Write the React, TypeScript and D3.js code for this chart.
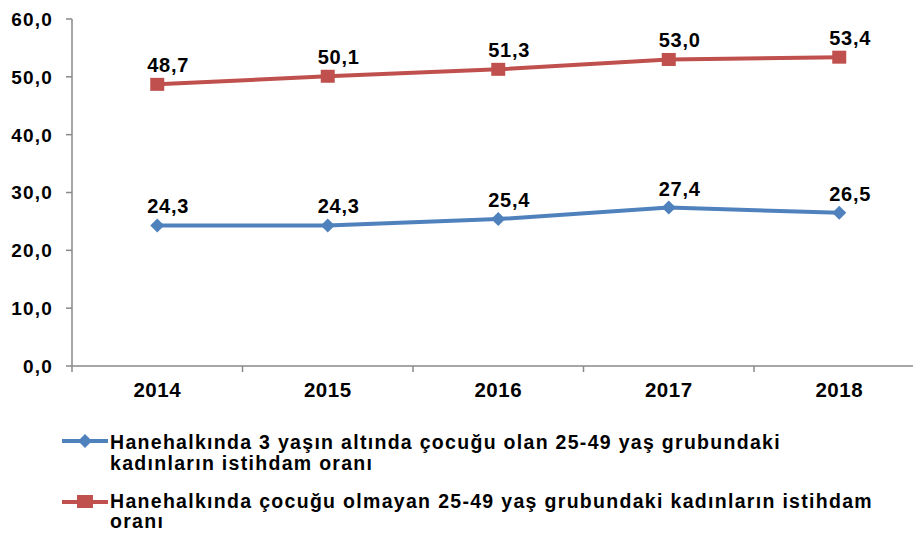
import React, { useLayoutEffect, useRef, useState } from "react";
import * as d3 from "d3";

const years = ["2014", "2015", "2016", "2017", "2018"];
const seriesBlue = [24.3, 24.3, 25.4, 27.4, 26.5];
const seriesRed = [48.7, 50.1, 51.3, 53.0, 53.4];
const yTicks = [0, 10, 20, 30, 40, 50, 60];
const legendBlue = ["Hanehalkında 3 yaşın altında çocuğu olan 25-49 yaş grubundaki", "kadınların istihdam oranı"];
const legendRed = ["Hanehalkında çocuğu olmayan 25-49 yaş grubundaki kadınların istihdam", "oranı"];

const W = 913;
const H = 536;
const BLUE = "#4F81BD";
const RED = "#C0504D";
const AXIS = "#898989";
const FONT = "'Liberation Sans', Arial, sans-serif";
const LEG_FS = 19.5;
const LEG_LS = 1.3;

const fmt = (v: number) => v.toFixed(1).replace(".", ",");

function JustifiedText(props: { x: number; y: number; text: string; target: number }) {
  const ref = useRef<SVGTextElement>(null);
  const [ws, setWs] = useState(0);
  useLayoutEffect(() => {
    if (!ref.current) return;
    const el = ref.current;
    el.setAttribute("word-spacing", "0");
    const natural = el.getComputedTextLength();
    const spaces = props.text.split(" ").length - 1;
    if (spaces > 0) setWs(Math.max(0, (props.target - natural) / spaces));
  }, [props.text, props.target]);
  return (
    <text
      ref={ref}
      x={props.x}
      y={props.y}
      fontSize={LEG_FS}
      letterSpacing={LEG_LS}
      wordSpacing={ws}
      fill="#000"
    >
      {props.text}
    </text>
  );
}

export default function App() {
  const x = d3.scaleBand<string>().domain(years).range([72, 924.5]);
  const y = d3.scaleLinear().domain([0, 60]).range([366, 19]);
  const cx = (d: string) => (x(d) as number) + x.bandwidth() / 2;
  const line = d3
    .line<number>()
    .x((_, i) => cx(years[i]))
    .y((v) => y(v));

  const diamond = (px: number, py: number, r: number) =>
    `M${px},${py - r}L${px + r},${py}L${px},${py + r}L${px - r},${py}Z`;

  return (
    <svg
      width={W}
      height={H}
      style={{ position: "absolute", left: 0, top: 0, background: "#fff" }}
      fontFamily={FONT}
      fontWeight="bold"
    >
      <rect width={W} height={H} fill="#fff" />
      {/* Y axis */}
      <line x1={72} x2={72} y1={y(60)} y2={y(0)} stroke={AXIS} strokeWidth={1.5} />
      {yTicks.map((t) => (
        <g key={t}>
          <line x1={66} x2={72} y1={y(t)} y2={y(t)} stroke={AXIS} strokeWidth={1.5} />
          <text
            x={53}
            y={y(t)}
            dy="0.36em"
            textAnchor="end"
            fontSize={19}
            letterSpacing={1.2}
            fill="#000"
          >
            {fmt(t)}
          </text>
        </g>
      ))}
      {/* X axis */}
      <line x1={72} x2={W} y1={y(0)} y2={y(0)} stroke={AXIS} strokeWidth={1.5} />
      {years.map((d) => (
        <g key={d}>
          <line
            x1={x(d) as number}
            x2={x(d) as number}
            y1={y(0)}
            y2={y(0) + 6}
            stroke={AXIS}
            strokeWidth={1.5}
          />
          <text x={cx(d)} y={397} textAnchor="middle" fontSize={20.5} letterSpacing={0.5} fill="#000">
            {d}
          </text>
        </g>
      ))}
      {/* Lines */}
      <path d={line(seriesBlue) as string} fill="none" stroke={BLUE} strokeWidth={4} />
      <path d={line(seriesRed) as string} fill="none" stroke={RED} strokeWidth={4} />
      {seriesBlue.map((v, i) => (
        <path key={"b" + i} d={diamond(cx(years[i]), y(v), 7)} fill={BLUE} />
      ))}
      {seriesRed.map((v, i) => (
        <rect key={"r" + i} x={cx(years[i]) - 7} y={y(v) - 6.5} width={14} height={13} fill={RED} />
      ))}
      {/* Data labels */}
      {seriesBlue.map((v, i) => (
        <text
          key={"bl" + i}
          x={cx(years[i]) + 11}
          y={y(v) - 12}
          textAnchor="middle"
          fontSize={20}
          letterSpacing={0.8}
          fill="#000"
        >
          {fmt(v)}
        </text>
      ))}
      {seriesRed.map((v, i) => (
        <text
          key={"rl" + i}
          x={cx(years[i]) + 11}
          y={y(v) - 12}
          textAnchor="middle"
          fontSize={20}
          letterSpacing={0.8}
          fill="#000"
        >
          {fmt(v)}
        </text>
      ))}
      {/* Legend */}
      <line x1={62} x2={108} y1={441} y2={441} stroke={BLUE} strokeWidth={4} />
      <path d={diamond(85, 441, 7)} fill={BLUE} />
      <JustifiedText x={110} y={449} text={legendBlue[0]} target={668} />
      <text x={110} y={470} fontSize={LEG_FS} letterSpacing={LEG_LS} fill="#000">
        {legendBlue[1]}
      </text>
      <line x1={62} x2={108} y1={502} y2={502} stroke={RED} strokeWidth={4} />
      <rect x={77} y={495} width={16} height={13} fill={RED} />
      <JustifiedText x={110} y={508} text={legendRed[0]} target={763} />
      <text x={110} y={528} fontSize={LEG_FS} letterSpacing={LEG_LS} fill="#000">
        {legendRed[1]}
      </text>
    </svg>
  );
}
